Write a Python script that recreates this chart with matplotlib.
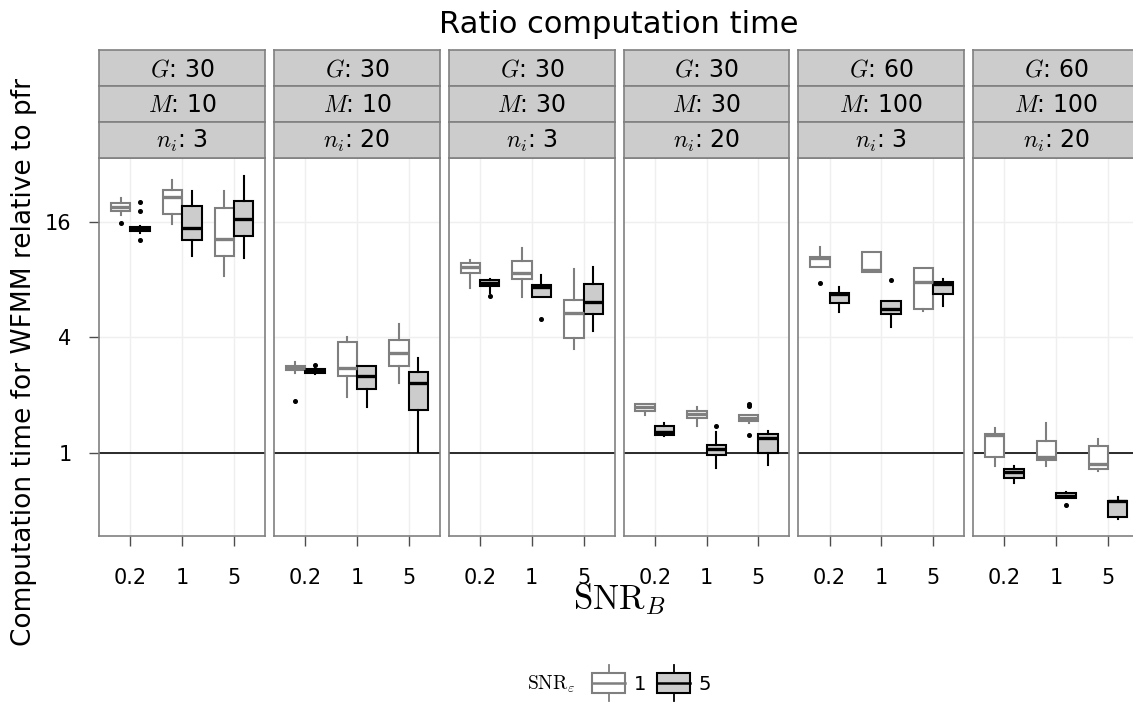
import matplotlib
matplotlib.use("Agg")
import matplotlib.pyplot as plt
from matplotlib.patches import Rectangle
from matplotlib.lines import Line2D

plt.rcParams["font.family"] = ["DejaVu Sans"]
plt.rcParams["mathtext.fontset"] = "cm"

# facet labels
G_vals = [30, 30, 30, 30, 60, 60]
M_vals = [10, 10, 30, 30, 100, 100]
n_vals = [3, 20, 3, 20, 3, 20]
snr_b = ["0.2", "1", "5"]
snr_e = ["1", "5"]

# box summaries per panel, per SNR_B: (whislo, q1, med, q3, whishi)
stats_e1 = [
    [(17.4, 18.3, 19.2, 20.0, 21.4), (15.6, 17.7, 21.6, 23.4, 26.5), (8.37, 10.6, 13.0, 19.0, 23.3)],
    [(2.60, 2.70, 2.76, 2.83, 2.97), (1.95, 2.52, 2.78, 3.78, 4.0), (2.31, 2.83, 3.32, 3.87, 4.70)],
    [(7.27, 8.68, 9.36, 9.82, 10.1), (6.53, 8.1, 8.71, 10.0, 11.75), (3.48, 3.99, 5.35, 6.30, 9.1)],
    [(1.58, 1.66, 1.73, 1.79, 1.80), (1.39, 1.52, 1.59, 1.66, 1.74), (1.43, 1.47, 1.53, 1.58, 1.58)],
    [(9.36, 9.36, 10.35, 10.47, 11.8), (8.78, 8.78, 9.0, 11.2, 11.2), (5.48, 5.63, 7.79, 9.2, 9.2)],
    [(0.85, 0.958, 1.24, 1.25, 1.35), (0.85, 0.923, 0.958, 1.155, 1.44), (0.81, 0.825, 0.876, 1.087, 1.18)],
]
stats_e5 = [
    [(13.97, 14.4, 14.7, 15.0, 15.3), (10.7, 12.9, 14.8, 19.5, 23.3), (10.35, 13.6, 16.6, 20.7, 27.8)],
    [(2.58, 2.61, 2.68, 2.74, 2.78), (1.73, 2.16, 2.53, 2.85, 2.85), (1.016, 1.68, 2.31, 2.65, 3.13)],
    [(6.85, 7.45, 7.72, 7.98, 8.1), (6.53, 6.53, 7.36, 7.48, 8.47), (4.34, 5.30, 6.13, 7.57, 9.29)],
    [(1.22, 1.24, 1.29, 1.38, 1.44), (0.839, 0.977, 1.045, 1.10, 1.28), (0.866, 1.0, 1.19, 1.26, 1.30)],
    [(5.41, 6.08, 6.74, 6.83, 7.36), (4.55, 5.30, 5.61, 6.22, 6.22), (5.82, 6.74, 7.60, 7.79, 8.1)],
    [(0.70, 0.738, 0.80, 0.829, 0.856), (0.585, 0.585, 0.599, 0.616, 0.628), (0.451, 0.463, 0.56, 0.565, 0.592)],
]
fliers_e1 = [
    [[15.75], [], []],
    [[1.87], [], []],
    [[], [], []],
    [[], [], [1.81, 1.75, 1.24]],
    [[7.66], [], []],
    [[], [], []],
]
fliers_e5 = [
    [[20.3, 18.3, 12.9], [], []],
    [[2.89], [], []],
    [[6.6], [4.99], []],
    [[], [1.38], []],
    [[], [8.0], []],
    [[], [0.534], []],
]

W, H = 1133, 704
fig = plt.figure(figsize=(W / 100, H / 100), dpi=100)

STRIP_BG = "#CCCCCC"
EDGE = "#808080"


def px_rect(x0, y0, w, h):
    return [x0 / W, 1 - (y0 + h) / H, w / W, h / H]


def to_bxp(rows, fliers):
    out = []
    for (lo, q1, med, q3, hi), fl in zip(rows, fliers):
        out.append(dict(whislo=lo, q1=q1, med=med, q3=q3, whishi=hi, fliers=fl))
    return out


panel_w, gap = 165.7, 9.1
top, strip_h, body_top, body_bot = 50, 36, 158, 536
positions = [1, 2, 3]
bw = 0.375
flier_style = dict(marker="o", markersize=2.6, markerfacecolor="black",
                   markeredgecolor="black")

for i in range(6):
    x0 = 99.3 + i * (panel_w + gap)
    ax = fig.add_axes(px_rect(x0, body_top, panel_w, body_bot - body_top))
    ax.set_yscale("log", base=2)
    ax.set_ylim(0.369, 34.5)
    ax.set_xlim(0.4, 3.6)
    ax.grid(True, color="#EFEFEF", lw=1.0, zorder=0)
    ax.set_axisbelow(True)
    ax.axhline(1, color="#1a1a1a", lw=1.3, zorder=1)

    ax.bxp(to_bxp(stats_e1[i], fliers_e1[i]),
           positions=[p - bw / 2 for p in positions], widths=bw,
           patch_artist=True, manage_ticks=False, showcaps=False,
           boxprops=dict(facecolor="white", edgecolor="#7F7F7F", lw=1.5),
           whiskerprops=dict(color="#7F7F7F", lw=1.5),
           medianprops=dict(color="#7F7F7F", lw=2.4, solid_capstyle="butt"),
           flierprops=flier_style, zorder=3)
    ax.bxp(to_bxp(stats_e5[i], fliers_e5[i]),
           positions=[p + bw / 2 for p in positions], widths=bw,
           patch_artist=True, manage_ticks=False, showcaps=False,
           boxprops=dict(facecolor="#CCCCCC", edgecolor="black", lw=1.5),
           whiskerprops=dict(color="black", lw=1.5),
           medianprops=dict(color="black", lw=2.4, solid_capstyle="butt"),
           flierprops=flier_style, zorder=3)

    ax.set_xticks(positions)
    ax.set_xticklabels(snr_b, fontsize=15)
    ax.set_yticks([1, 4, 16])
    ax.minorticks_off()
    ax.set_yticklabels(["1", "4", "16"], fontsize=15)
    ax.tick_params(axis="both", color="#4D4D4D", length=7, width=1, pad=13)
    ax.tick_params(axis="x", pad=16)
    if i > 0:
        ax.tick_params(axis="y", length=0, labelleft=False)
    for s in ax.spines.values():
        s.set_color(EDGE)
        s.set_linewidth(1.2)

    labels = [f"$G$: {G_vals[i]}", f"$M$: {M_vals[i]}", f"$n_i$: {n_vals[i]}"]
    for k, lab in enumerate(labels):
        sax = fig.add_axes(px_rect(x0, top + k * strip_h, panel_w, strip_h))
        sax.set_facecolor(STRIP_BG)
        sax.set_xticks([])
        sax.set_yticks([])
        for s in sax.spines.values():
            s.set_color(EDGE)
            s.set_linewidth(1.2)
        sax.text(0.5, 0.47, lab, ha="center", va="center", fontsize=17,
                 transform=sax.transAxes)

fig.text(619 / W, 1 - 33 / H, "Ratio computation time", ha="center", va="baseline",
         fontsize=22)
fig.text(24 / W, 1 - 362 / H, "Computation time for WFMM relative to pfr",
         rotation=90, ha="center", va="center", fontsize=19)
fig.text(619 / W, 1 - 609 / H, r"$\mathrm{SNR}_B$", ha="center", va="baseline",
         fontsize=25)

# legend
lax = fig.add_axes([0, 0, 1, 1], facecolor="none")
lax.set_xlim(0, W)
lax.set_ylim(H, 0)
lax.set_axis_off()
lax.text(551, 684, r"$\mathrm{SNR}_\varepsilon$", ha="center", va="center", fontsize=14)
keys = [(592, "white", "#7F7F7F", "1"), (657, "#CCCCCC", "black", "5")]
for kx, fc, ec, lab in keys:
    lax.add_patch(Rectangle((kx, 673), 33, 20, facecolor=fc, edgecolor=ec, lw=1.5))
    lax.add_line(Line2D([kx, kx + 33], [683, 683], color=ec, lw=1.8))
    lax.add_line(Line2D([kx + 16.5, kx + 16.5], [665, 673], color=ec, lw=1.3))
    lax.add_line(Line2D([kx + 16.5, kx + 16.5], [693, 701], color=ec, lw=1.3))
    lax.text(kx + 48, 684, lab, ha="center", va="center", fontsize=14)

fig.savefig("out.png", dpi=100, facecolor="white")
